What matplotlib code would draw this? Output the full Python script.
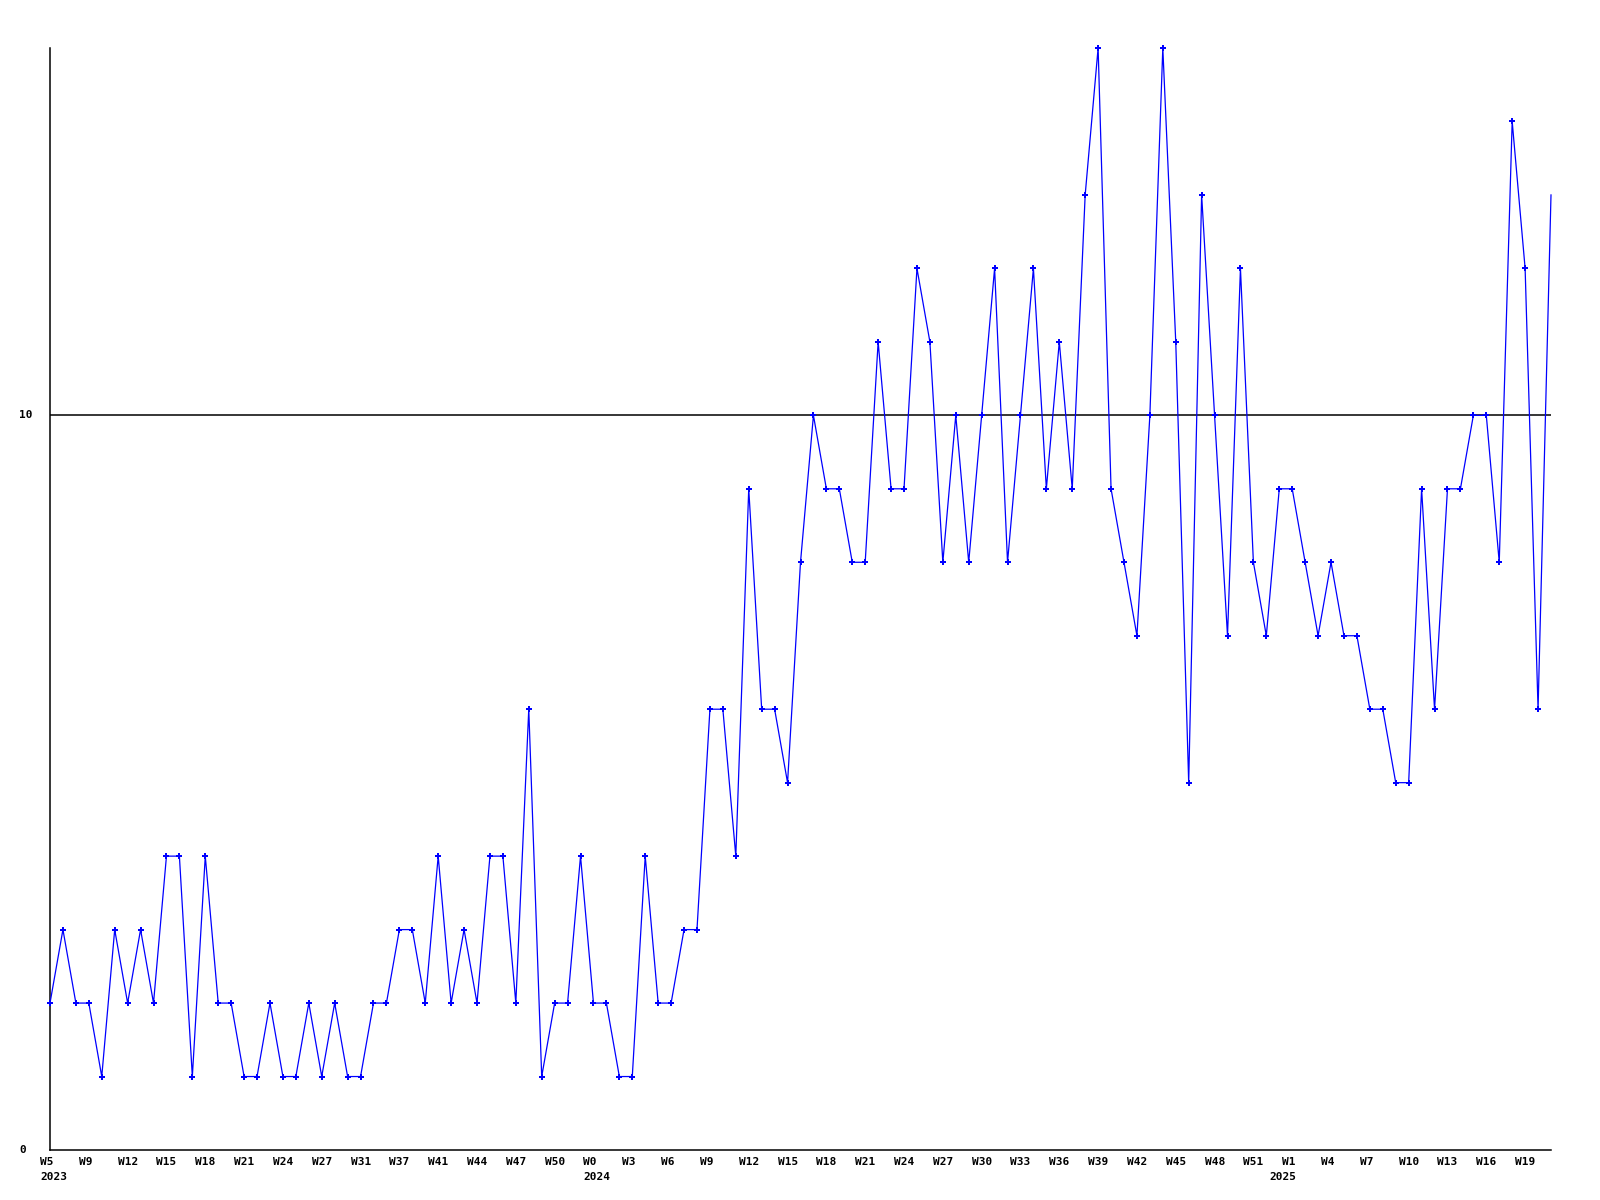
import matplotlib
matplotlib.use("Agg")
import matplotlib.pyplot as plt
from matplotlib.transforms import offset_copy, blended_transform_factory

values = [2, 3, 2, 2, 1, 3, 2, 3, 2, 4, 4, 1, 4, 2, 2, 1, 1, 2, 1, 1,
          2, 1, 2, 1, 1, 2, 2, 3, 3, 2, 4, 2, 3, 2, 4, 4, 2, 6, 1, 2,
          2, 4, 2, 2, 1, 1, 4, 2, 2, 3, 3, 6, 6, 4, 9, 6, 6, 5, 8, 10,
          9, 9, 8, 8, 11, 9, 9, 12, 11, 8, 10, 8, 10, 12, 8, 10, 12, 9, 11, 9,
          13, 15, 9, 8, 7, 10, 15, 11, 5, 13, 10, 7, 12, 8, 7, 9, 9, 8, 7, 8,
          7, 7, 6, 6, 5, 5, 9, 6, 9, 9, 10, 10, 8, 14, 12, 6, 13]

week_labels = ["W5", "W9", "W12", "W15", "W18", "W21", "W24", "W27", "W31", "W37",
               "W41", "W44", "W47", "W50", "W0", "W3", "W6", "W9", "W12", "W15",
               "W18", "W21", "W24", "W27", "W30", "W33", "W36", "W39", "W42", "W45",
               "W48", "W51", "W1", "W4", "W7", "W10", "W13", "W16", "W19"]
week_label_pos = list(range(0, 115, 3))

year_labels = ["2023", "2024", "2025"]
year_label_pos = [0, 42, 95]

y_labels = ["0", "10"]
y_label_vals = [0, 10]

W, H = 1600, 1200
fig = plt.figure(figsize=(16, 12), dpi=100)
ax = fig.add_axes([50 / W, 50 / H, (1551 - 50) / W, (1151 - 49) / H])

x = list(range(len(values)))
ax.plot(x, values, color="#0000ff", lw=0.9, marker="P", markersize=4.6,
        markeredgewidth=0, markevery=list(range(len(values) - 1)),
        clip_on=False, zorder=3)
ax.axhline(10, color="black", lw=1.1, zorder=2)

ax.set_xlim(0, len(values) - 1)
ax.set_ylim(0, 15)
for s in ["top", "right"]:
    ax.spines[s].set_visible(False)
for s in ["left", "bottom"]:
    ax.spines[s].set_linewidth(1.1)
ax.set_xticks([])
ax.set_yticks([])

font = dict(family="DejaVu Sans Mono", weight="bold", size=8, color="black")

base_x = blended_transform_factory(ax.transData, ax.transAxes)
tr_w = offset_copy(base_x, fig=fig, x=-10, y=-12, units="dots")
for lab, p in zip(week_labels, week_label_pos):
    ax.text(p, 0, lab, transform=tr_w, ha="left", va="center", **font)

tr_yr = offset_copy(base_x, fig=fig, x=-10, y=-27, units="dots")
for lab, p in zip(year_labels, year_label_pos):
    ax.text(p, 0, lab, transform=tr_yr, ha="left", va="center", **font)

tr_l = offset_copy(blended_transform_factory(ax.transAxes, ax.transData),
                   fig=fig, x=-31, y=0, units="dots")
for lab, v in zip(y_labels, y_label_vals):
    ax.text(0, v, lab, transform=tr_l, ha="left", va="center", **font)

fig.savefig("out.png", dpi=100)
